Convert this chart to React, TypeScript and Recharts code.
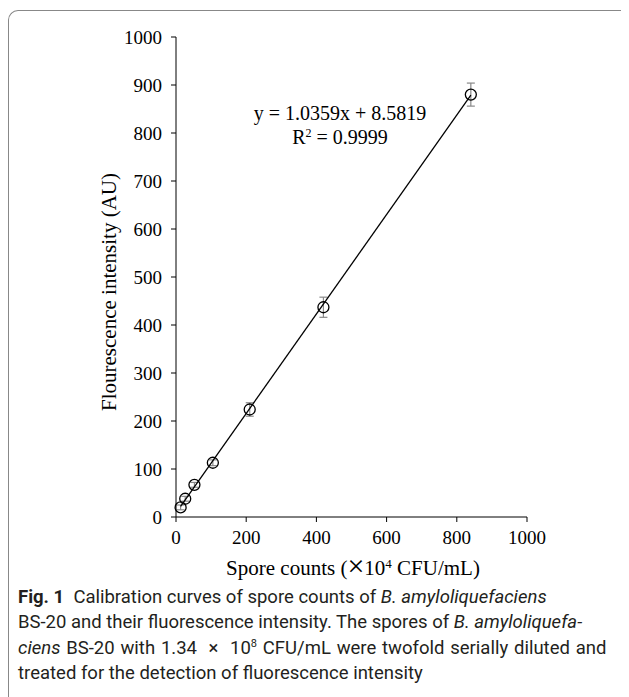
import React from "react";
import { ScatterChart, Scatter, XAxis, YAxis, ErrorBar } from "recharts";

const sporeCounts = [13.125, 26.25, 52.5, 105, 210, 420, 840];
const fluorescence = [20, 38, 67, 113, 224, 437, 880];
const errors = [5, 5, 5, 6, 14, 21, 24];
const trendX = [13.1, 840];
const trendY = [22.2, 878.7];
const xTicks = [0, 200, 400, 600, 800, 1000];
const yTicks = [0, 100, 200, 300, 400, 500, 600, 700, 800, 900, 1000];

const points = sporeCounts.map((x, i) => ({ x, y: fluorescence[i], err: errors[i] }));
const trend = trendX.map((x, i) => ({ x, y: trendY[i] }));

const serif = "'Liberation Serif', 'Times New Roman', serif";
const capFont = "Roboto, 'Liberation Sans', Arial, sans-serif";

const OpenCircle = (props: any) => {
  const { cx, cy } = props;
  if (cx == null || cy == null) return null;
  return <circle cx={cx} cy={cy} r={5.5} fill="none" stroke="#000" strokeWidth={1.3} />;
};

const sup = (t: string, size: number, rise: number) => (
  <span style={{ fontSize: size, position: "relative", top: -rise, lineHeight: 0 }}>{t}</span>
);

export default function App() {
  return (
    <div style={{ position: "relative", width: 613, height: 689 }}>
      <div
        style={{
          position: "absolute",
          left: 0,
          top: 2,
          width: 616,
          height: 700,
          borderTop: "1.5px solid #888",
          borderLeft: "1.5px solid #888",
          borderTopLeftRadius: 10,
        }}
      />
      <div style={{ position: "absolute", left: 0, top: 0 }}>
        <ScatterChart
          width={613}
          height={600}
          margin={{ top: 29, right: 94, bottom: 61, left: 108 }}
        >
          <XAxis
            type="number"
            dataKey="x"
            domain={[0, 1000]}
            ticks={xTicks}
            height={30}
            tickSize={5}
            tickMargin={9}
            stroke="#000"
            tick={{ fill: "#000", fontSize: 19, fontFamily: serif }}
            axisLine={{ stroke: "#000" }}
            tickLine={{ stroke: "#000" }}
          />
          <YAxis
            type="number"
            dataKey="y"
            domain={[0, 1000]}
            ticks={yTicks}
            width={60}
            tickSize={5}
            tickMargin={9}
            stroke="#000"
            tick={{ fill: "#000", fontSize: 19, fontFamily: serif }}
            axisLine={{ stroke: "#000" }}
            tickLine={{ stroke: "#000" }}
          />
          <Scatter
            data={trend}
            line={{ stroke: "#000", strokeWidth: 1.3 }}
            lineType="joint"
            shape={() => null}
            isAnimationActive={false}
          />
          <Scatter data={points} shape={OpenCircle} isAnimationActive={false}>
            <ErrorBar dataKey="err" direction="y" width={4} stroke="#888" strokeWidth={1.2} />
          </Scatter>
        </ScatterChart>
      </div>
      <div
        style={{
          position: "absolute",
          left: 232,
          top: 93,
          width: 200,
          textAlign: "center",
          fontFamily: serif,
          fontSize: 20,
          lineHeight: "24px",
          color: "#000",
          whiteSpace: "nowrap",
        }}
      >
        <div>y = 1.0359x + 8.5819</div>
        <div>R{sup("2", 12, 7)} = 0.9999</div>
      </div>
      <div
        style={{
          position: "absolute",
          left: 101 - 200,
          top: 284 - 13,
          width: 400,
          height: 26,
          textAlign: "center",
          transform: "rotate(-90deg)",
          fontFamily: serif,
          fontSize: 21,
          lineHeight: "26px",
          color: "#000",
          whiteSpace: "nowrap",
        }}
      >
        Flourescence intensity (AU)
      </div>
      <div
        style={{
          position: "absolute",
          left: 145,
          top: 547,
          width: 400,
          height: 26,
          textAlign: "center",
          fontFamily: serif,
          fontSize: 21,
          lineHeight: "26px",
          color: "#000",
          whiteSpace: "nowrap",
        }}
      >
        Spore counts (
        <span style={{ fontSize: 30, lineHeight: 0, position: "relative", top: 1, fontWeight: 300 }}>×</span>
        10{sup("4", 13, 7)} CFU/mL)
      </div>
      <div
        style={{
          position: "absolute",
          left: 10,
          top: 577,
          width: 610,
          fontFamily: capFont,
          fontSize: 18.5,
          lineHeight: "25.3px",
          color: "#231f20",
          whiteSpace: "nowrap",
        }}
      >
        <div>
          <b>Fig. 1</b>&nbsp;&nbsp;Calibration curves of spore counts of <i>B. amyloliquefaciens</i>
        </div>
        <div>
          BS-20 and their fluorescence intensity. The spores of <i>B. amyloliquefa-</i>
        </div>
        <div style={{ wordSpacing: 1.2 }}>
          <i>ciens</i> BS-20 with 1.34 &nbsp;×&nbsp; 10{sup("8", 11, 7)} CFU/mL were twofold serially diluted and
        </div>
        <div>treated for the detection of fluorescence intensity</div>
      </div>
    </div>
  );
}
